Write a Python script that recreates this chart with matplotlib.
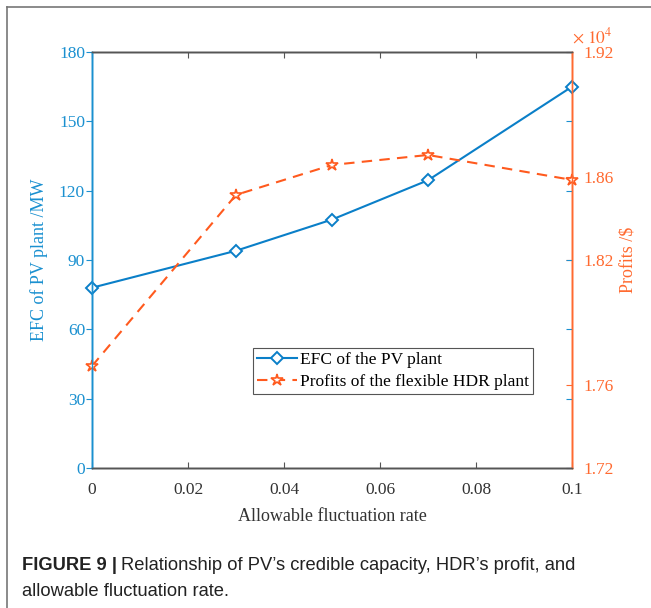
import matplotlib
matplotlib.use("Agg")
import matplotlib.pyplot as plt
from matplotlib.lines import Line2D
from matplotlib.ticker import FuncFormatter

# ---- data ----
rate = [0.0, 0.03, 0.05, 0.07, 0.10]
efc = [78.0, 94.0, 107.5, 124.5, 165.0]
profits = [17690, 18513, 18657, 18705, 18585]

xticks = [0, 0.02, 0.04, 0.06, 0.08, 0.1]
xticklabels = ["0", "0.02", "0.04", "0.06", "0.08", "0.1"]
left_ticks = [0, 30, 60, 90, 120, 150, 180]
right_ticks = [17200, 17600, 18200, 18600, 19200]

BLUE_LINE = "#0a7fc8"
BLUE_TXT = "#1a90d0"
ORANGE_LINE = "#ff5a1e"
ORANGE_TXT = "#ff6a30"
GRAY = "#555555"
SERIF = "Liberation Serif"

fig = plt.figure(figsize=(6.51, 6.08), dpi=100)
fig.patch.set_facecolor("white")

ax = fig.add_axes([92/651, (608-468)/608, 480/651, 416/608])
ax2 = ax.twinx()
ax3 = ax.twinx()

# lines
ax.plot(rate, efc, color=BLUE_LINE, lw=1.5, marker="D", ms=6.5, mfc="white",
        mec=BLUE_LINE, mew=1.4, clip_on=False, zorder=3)
ax2.plot(rate, profits, color=ORANGE_LINE, lw=1.5, ls=(0, (5, 3.5)), marker="*",
         ms=9, mfc="white", mec=ORANGE_LINE, mew=1.2, clip_on=False, zorder=3)

# x axis
ax.set_xlim(0, 0.1)
ax.set_xticks(xticks)
ax.set_xticklabels(xticklabels, fontfamily=SERIF, fontsize=12.5, color="#333333")
ax.tick_params(axis="x", direction="in", top=True, length=4, color=GRAY, pad=10)
ax.set_xlabel("Allowable fluctuation rate", fontfamily=SERIF, fontsize=13,
              color="#333333", labelpad=7)

# left y axis
ax.set_ylim(0, 180)
ax.set_yticks(left_ticks)
ax.set_yticklabels([str(t) for t in left_ticks], fontfamily=SERIF, fontsize=12.5,
                   color=BLUE_TXT)
ax.tick_params(axis="y", direction="out", length=4, color=BLUE_TXT, pad=1)
ax.set_ylabel("EFC of PV plant /MW", fontfamily=SERIF, fontsize=13, color=BLUE_TXT,
              labelpad=8)

# right y axis (profits)
ax2.set_ylim(17200, 19200)
ax2.set_yticks(right_ticks)
ax2.yaxis.set_major_formatter(FuncFormatter(lambda v, p: f"{v/1e4:.2f}"))
for lab in ax2.get_yticklabels():
    lab.set_fontfamily(SERIF)
ax2.tick_params(axis="y", direction="in", length=4, color=ORANGE_TXT,
                labelcolor=ORANGE_TXT, labelsize=12.5, pad=8)
ax2.set_ylabel("Profits /$", fontfamily=SERIF, fontsize=13, color=ORANGE_TXT,
               labelpad=4)
ax2.text(1.0, 1.036, r"$\times\ 10^4$", transform=ax2.transAxes, ha="left",
         va="center", fontsize=12.5, color=ORANGE_TXT, math_fontfamily="stix")

# mirrored blue ticks on right
ax3.set_ylim(0, 180)
ax3.set_yticks(left_ticks)
ax3.tick_params(axis="y", direction="in", length=4, color=BLUE_TXT,
                labelright=False)

# spines
for a in (ax, ax2, ax3):
    a.spines["top"].set_color(GRAY)
    a.spines["bottom"].set_color(GRAY)
    a.spines["left"].set_color(BLUE_TXT)
    a.spines["right"].set_color(ORANGE_TXT)
    for s in a.spines.values():
        s.set_linewidth(1.0)

# legend
handles = [
    Line2D([], [], color=BLUE_LINE, lw=1.5, marker="D", ms=6.5, mfc="white",
           mec=BLUE_LINE, mew=1.4),
    Line2D([], [], color=ORANGE_LINE, lw=1.5, ls=(0, (5, 3.5)), marker="*", ms=9,
           mfc="white", mec=ORANGE_LINE, mew=1.2),
]
leg = ax2.legend(handles, ["EFC of the PV plant", "Profits of the flexible HDR plant"],
                 loc="upper left", bbox_to_anchor=(0.335, 0.288), fancybox=False,
                 framealpha=1, edgecolor="#555555", prop={"family": SERIF, "size": 12.5},
                 handlelength=2.3, borderpad=0.22, labelspacing=0.32,
                 handletextpad=0.2, borderaxespad=0)
leg.get_frame().set_linewidth(0.8)

# figure frame (top and left)
fig.add_artist(Line2D([7/651, 1.0], [1 - 7/608, 1 - 7/608], color="#777777", lw=1.2,
                      transform=fig.transFigure))
fig.add_artist(Line2D([7/651, 7/651], [0, 1 - 7/608], color="#777777", lw=1.2,
                      transform=fig.transFigure))

# caption
t = fig.text(22/651, 1 - 566/608, "FIGURE 9 |", fontsize=13.2, fontweight="bold",
             fontfamily="Liberation Sans", va="center", ha="left", color="#222222")
fig.canvas.draw()
bb = t.get_window_extent()
fig.text((bb.x1 + 4) / fig.bbox.width, 1 - 566/608,
         "Relationship of PV\u2019s credible capacity, HDR\u2019s profit, and",
         fontsize=13.2, fontfamily="Liberation Sans", va="center", ha="left",
         color="#222222")
fig.text(22/651, 1 - 591/608, "allowable fluctuation rate.", fontsize=13.2,
         fontfamily="Liberation Sans", va="center", ha="left", color="#222222")

fig.savefig("out.png", dpi=100)
